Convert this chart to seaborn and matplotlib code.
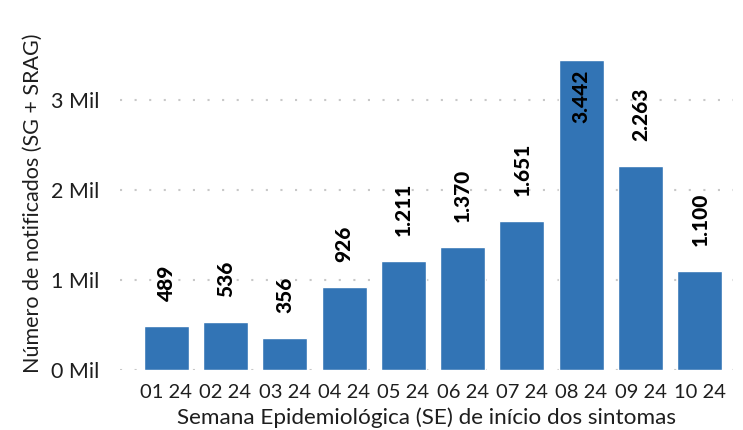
import matplotlib
matplotlib.use("Agg")
import matplotlib.pyplot as plt
import seaborn as sns
import pandas as pd
from matplotlib.ticker import FuncFormatter

weeks = ["01 24", "02 24", "03 24", "04 24", "05 24", "06 24", "07 24", "08 24", "09 24", "10 24"]
cases = [489, 536, 356, 926, 1211, 1370, 1651, 3442, 2263, 1100]

sns.set_style("white")
plt.rcParams["font.family"] = ["Lato", "DejaVu Sans"]

df = pd.DataFrame({"semana": weeks, "casos": cases})

fig = plt.figure(figsize=(7.43, 4.3), dpi=100)
ax = fig.add_axes([120 / 743, 1 - 370 / 430, 613 / 743, 333 / 430])

sns.barplot(data=df, x="semana", y="casos", color="#3274B5", saturation=1,
            width=0.76, ax=ax)

ax.set_xlim(-0.78, 9.56)
ax.set_ylim(0, 3700)
ax.set_yticks([0, 1000, 2000, 3000])
ax.yaxis.set_major_formatter(FuncFormatter(lambda v, p: f"{v / 1000:.0f} Mil"))
ax.yaxis.grid(True, color="#c8c8c8", linestyle=(0, (1, 6)), linewidth=1.5)
ax.set_axisbelow(True)
for s in ax.spines.values():
    s.set_visible(False)
ax.tick_params(axis="both", length=0, colors="#1e1e1e")
ax.tick_params(axis="y", pad=15, labelsize=15.5)
ax.tick_params(axis="x", pad=10, labelsize=14.5)

ax.set_xlabel("Semana Epidemiológica (SE) de início dos sintomas", fontsize=16.2,
              color="#1e1e1e", labelpad=5)
ax.set_ylabel("Número de notificados (SG + SRAG)", fontsize=15.5, color="#1e1e1e", labelpad=6)

# rotated labels above bars, inside the bar when there is no room
for i, v in enumerate(cases):
    txt = f"{v:,}".replace(",", ".")
    if v > 3000:
        ax.annotate(txt, (i, v), xytext=(0, -7), textcoords="offset points",
                    rotation=90, ha="center", va="top", fontsize=15,
                    fontweight="black", color="black")
    else:
        ax.annotate(txt, (i, v), xytext=(0, 18), textcoords="offset points",
                    rotation=90, ha="center", va="bottom", fontsize=15,
                    fontweight="black", color="black")

fig.savefig("out.png", dpi=100)
